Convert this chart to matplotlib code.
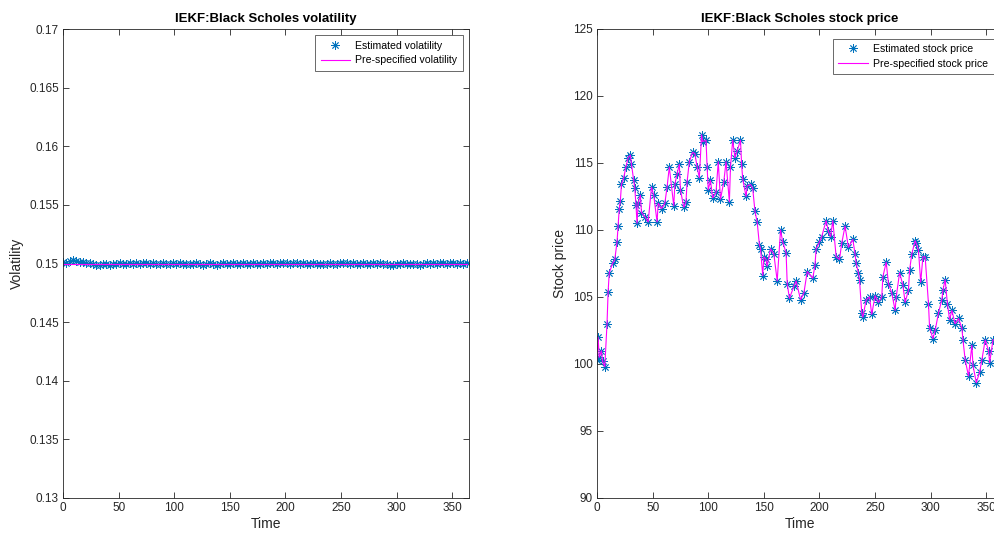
import matplotlib
matplotlib.use("Agg")
import matplotlib.pyplot as plt
import numpy as np

plt.rcParams['font.family'] = ['Liberation Sans', 'DejaVu Sans']

# ---------------- data ----------------
vol_time = list(range(0, 366, 3))
est_vol = [
    0.15010, 0.15005, 0.15025, 0.15030, 0.15020, 0.15015, 0.15012, 0.15008, 0.15003, 0.14998, 0.14990,
    0.14985, 0.14992, 0.14996, 0.14990, 0.15000, 0.14995, 0.15004, 0.14998, 0.14993, 0.15002, 0.14997,
    0.15003, 0.14996, 0.15006, 0.15001, 0.14995, 0.15004, 0.14999, 0.14993, 0.15003, 0.14998, 0.14994,
    0.15001, 0.14996, 0.15004, 0.14999, 0.14992, 0.15000, 0.14995, 0.15003, 0.14998, 0.14991, 0.14996,
    0.15002, 0.14997, 0.14989, 0.14995, 0.15003, 0.14999, 0.14994, 0.15004, 0.15000, 0.14996, 0.15005,
    0.15000, 0.14995, 0.15003, 0.14998, 0.14994, 0.15002, 0.14997, 0.15005, 0.15001, 0.14996, 0.15004,
    0.15008, 0.15003, 0.14998, 0.15005, 0.15001, 0.14996, 0.15004, 0.14999, 0.14993, 0.15002, 0.14997,
    0.14992, 0.15000, 0.14996, 0.15004, 0.14999, 0.14994, 0.15003, 0.15007, 0.15002, 0.14997, 0.15004,
    0.15000, 0.14995, 0.15003, 0.14998, 0.14993, 0.15001, 0.14996, 0.15004, 0.14999, 0.14994, 0.14990,
    0.14985, 0.14992, 0.14998, 0.15003, 0.14997, 0.14992, 0.15000, 0.14995, 0.14990, 0.14997, 0.15002,
    0.14996, 0.15003, 0.14999, 0.15008, 0.15004, 0.14998, 0.15005, 0.15001, 0.14996, 0.15004, 0.15000,
    0.15003,
]
pre_vol = [0.15] * len(vol_time)

price_time = [
    0, 1, 2, 4, 5, 7, 9, 10, 11, 14, 16, 18, 19, 20, 21, 22, 24, 26, 28, 30,
    31, 33, 34, 35, 36, 37, 39, 40, 43, 46, 49, 51, 54, 55, 58, 61, 63, 65, 69, 70,
    72, 74, 75, 78, 80, 81, 83, 86, 88, 90, 92, 94, 95, 98, 99, 100, 102, 104, 107, 109,
    111, 114, 116, 119, 120, 122, 124, 126, 129, 130, 131, 134, 135, 138, 140, 142, 144, 146, 147, 149,
    150, 152, 153, 156, 159, 162, 165, 167, 170, 171, 173, 177, 179, 183, 186, 189, 194, 196, 197, 200,
    202, 206, 208, 210, 212, 215, 218, 220, 223, 226, 230, 232, 233, 235, 236, 238, 239, 242, 245, 247,
    250, 253, 256, 257, 260, 262, 265, 268, 269, 272, 275, 277, 280, 281, 283, 286, 287, 289, 291, 293,
    295, 298, 299, 302, 304, 307, 310, 311, 313, 315, 317, 319, 322, 325, 328, 329, 331, 334, 337, 338,
    341, 344, 346, 349, 352, 353, 356, 359, 362, 365,
]
est_price = [
    100.3, 102.0, 100.5, 101.0, 100.2, 99.8, 103.0, 105.4, 106.8, 107.5, 107.8, 109.1, 110.3, 111.6, 112.2, 113.4, 113.9, 114.7, 115.4, 115.6,
    114.9, 113.7, 113.1, 111.9, 110.5, 112.0, 112.6, 111.3, 111.0, 110.6, 113.2, 112.6, 110.6, 112.0, 111.6, 112.0, 113.2, 114.7, 111.8, 113.4,
    114.2, 114.9, 113.0, 111.7, 112.1, 113.6, 115.1, 115.8, 115.7, 114.7, 113.9, 117.1, 116.6, 116.7, 114.7, 113.0, 113.7, 112.4, 112.8, 115.1,
    112.3, 113.6, 115.1, 112.1, 114.7, 116.7, 115.4, 115.9, 116.7, 114.9, 113.8, 112.5, 113.3, 113.4, 113.1, 111.4, 110.6, 108.9, 108.6, 106.6,
    108.0, 107.8, 107.3, 108.6, 108.2, 106.2, 110.0, 109.1, 108.3, 106.0, 104.9, 105.8, 106.2, 104.8, 105.3, 106.9, 106.4, 107.4, 108.6, 109.1,
    109.5, 110.7, 109.9, 109.5, 110.7, 108.0, 107.8, 109.0, 110.3, 108.7, 109.3, 108.2, 107.5, 106.8, 106.3, 103.8, 103.5, 104.8, 105.0, 103.7,
    105.1, 104.6, 105.0, 106.5, 107.6, 106.0, 105.3, 104.0, 105.0, 106.8, 105.9, 104.6, 105.5, 107.0, 108.2, 109.2, 109.0, 108.5, 106.1, 108.0,
    108.0, 104.5, 102.7, 101.9, 102.5, 103.8, 104.8, 105.5, 106.3, 104.5, 103.3, 104.0, 103.0, 103.4, 102.7, 101.8, 100.3, 99.1, 101.4, 99.9,
    98.6, 99.4, 100.3, 101.8, 101.0, 100.1, 101.8, 101.8, 101.2, 101.6,
]
pre_price = list(est_price)

x_ticks = [0, 50, 100, 150, 200, 250, 300, 350]
vol_ticks = [0.13, 0.135, 0.14, 0.145, 0.15, 0.155, 0.16, 0.165, 0.17]
vol_tick_labels = ['0.13', '0.135', '0.14', '0.145', '0.15', '0.155', '0.16', '0.165', '0.17']
price_ticks = [90, 95, 100, 105, 110, 115, 120, 125]

# ---------------- style ----------------
BLUE = '#0072BD'
MAG = '#FF00FF'
DARK = '#262626'
W, H = 995, 539

fig = plt.figure(figsize=(W / 100, H / 100), dpi=100)

def make_ax(left_px):
    ax = fig.add_axes([left_px / W, (H - 498) / H, 406 / W, 469 / H])
    for s in ax.spines.values():
        s.set_color(DARK)
        s.set_linewidth(0.6)
    ax.tick_params(direction='in', length=4, width=0.6, colors=DARK,
                   labelsize=8.5, top=True, right=True, pad=3)
    return ax

star = (8, 2, 0)

# left axes
ax1 = make_ax(63)
ax1.plot(vol_time, est_vol, linestyle='none', marker=star, color=BLUE,
         markersize=6, markeredgewidth=0.6, label='Estimated volatility')
ax1.plot(vol_time, pre_vol, color=MAG, linewidth=0.8, label='Pre-specified volatility')
ax1.set_xlim(0, 365)
ax1.set_ylim(0.13, 0.17)
ax1.set_xticks(x_ticks)
ax1.set_yticks(vol_ticks)
ax1.set_yticklabels(vol_tick_labels)
ax1.set_xlabel('Time', fontsize=10, color=DARK, labelpad=2)
ax1.set_ylabel('Volatility', fontsize=10, color=DARK, labelpad=4)
ax1.set_title('IEKF:Black Scholes volatility', fontsize=9.5, fontweight='bold',
              color='black', pad=5)
leg1 = ax1.legend(loc='upper right', fontsize=7.6, numpoints=1, frameon=True,
                  fancybox=False, edgecolor=DARK, borderaxespad=0.6,
                  handlelength=2.8, handletextpad=0.5, labelspacing=0.45, borderpad=0.5)
leg1.get_frame().set_linewidth(0.6)

# right axes
ax2 = make_ax(597)
ax2.plot(price_time, est_price, linestyle='none', marker=star, color=BLUE,
         markersize=6, markeredgewidth=0.6, label='Estimated stock price')
ax2.plot(price_time, pre_price, color=MAG, linewidth=0.8, label='Pre-specified stock price')
ax2.set_xlim(0, 365)
ax2.set_ylim(90, 125)
ax2.set_xticks(x_ticks)
ax2.set_yticks(price_ticks)
ax2.set_xlabel('Time', fontsize=10, color=DARK, labelpad=2)
ax2.set_ylabel('Stock price', fontsize=10, color=DARK, labelpad=4)
ax2.set_title('IEKF:Black Scholes stock price', fontsize=9.5, fontweight='bold',
              color='black', pad=5)
leg2 = ax2.legend(loc='upper right', fontsize=7.6, numpoints=1, frameon=True,
                  fancybox=False, edgecolor=DARK, borderaxespad=0.9,
                  handlelength=2.8, handletextpad=0.5, labelspacing=0.45, borderpad=0.5)
leg2.get_frame().set_linewidth(0.6)

fig.savefig('out.png', dpi=100)
